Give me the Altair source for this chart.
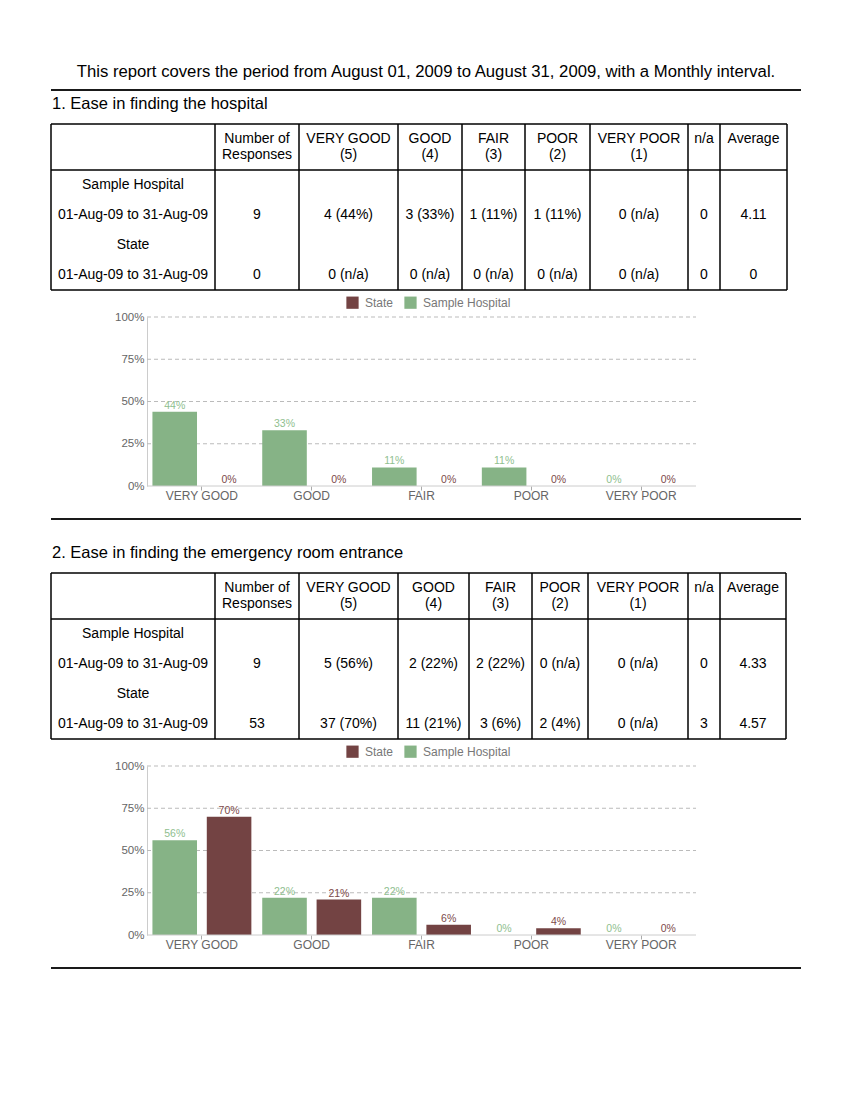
import altair as alt
import pandas as pd

# ---------------- data ----------------
REPORT_TITLE = "This report covers the period from August 01, 2009 to August 31, 2009, with a Monthly interval."
questions = ["1. Ease in finding the hospital", "2. Ease in finding the emergency room entrance"]

header_line1 = ["", "Number of", "VERY GOOD", "GOOD", "FAIR", "POOR", "VERY POOR", "n/a", "Average"]
header_line2 = ["", "Responses", "(5)", "(4)", "(3)", "(2)", "(1)", "", ""]
row_labels = ["Sample Hospital", "01-Aug-09 to 31-Aug-09", "State", "01-Aug-09 to 31-Aug-09"]

q1_hosp = ["9", "4 (44%)", "3 (33%)", "1 (11%)", "1 (11%)", "0 (n/a)", "0", "4.11"]
q1_state = ["0", "0 (n/a)", "0 (n/a)", "0 (n/a)", "0 (n/a)", "0 (n/a)", "0", "0"]
q2_hosp = ["9", "5 (56%)", "2 (22%)", "2 (22%)", "0 (n/a)", "0 (n/a)", "0", "4.33"]
q2_state = ["53", "37 (70%)", "11 (21%)", "3 (6%)", "2 (4%)", "0 (n/a)", "3", "4.57"]

categories = ["VERY GOOD", "GOOD", "FAIR", "POOR", "VERY POOR"]
series_order = ["Sample Hospital", "State"]
legend_order = ["State", "Sample Hospital"]
q1_hosp_pct = [44, 33, 11, 11, 0]
q1_state_pct = [0, 0, 0, 0, 0]
q2_hosp_pct = [56, 22, 22, 0, 0]
q2_state_pct = [70, 21, 6, 4, 0]
y_ticks = [0, 25, 50, 75, 100]
grid_values = [25, 50, 75, 100]

# ---------------- layout / style ----------------
FONT = "Liberation Sans"
PAGE_W = 750
col_edges_q1 = [0, 164, 248, 347, 411, 474, 539, 637, 669, 736]
col_edges_q2 = [0, 164, 248, 347, 418, 481, 537, 637, 669, 735]
HEADER_H = 46
ROW_H = 30
TABLE_H = HEADER_H + ROW_H * len(row_labels)
BAR_LEFT = 96
BAR_RIGHT = 645
BAR_H = 169
GREEN = "#86b386"
BROWN = "#734343"
GREEN_L = "#8fc08f"
BROWN_L = "#7d4a4a"
SEP_COLOR = "#1a1a1a"
AXIS_GRAY = "#cccccc"


def blank(h, w=PAGE_W):
    return alt.Chart(pd.DataFrame({"t": [" "]})).mark_text(fontSize=1).encode(
        text="t:N", x=alt.value(w / 2), y=alt.value(h / 2)
    ).properties(width=w, height=h)


def title_panel():
    txt = alt.Chart(pd.DataFrame({"t": [REPORT_TITLE]})).mark_text(
        fontSize=16.7, align="center", baseline="middle", font=FONT, color="#000"
    ).encode(text="t:N", x=alt.value(PAGE_W / 2), y=alt.value(16))
    rule = alt.Chart(pd.DataFrame({"v": [0]})).mark_rule(
        strokeWidth=2, color=SEP_COLOR
    ).encode(x=alt.value(0), x2=alt.value(PAGE_W), y=alt.value(34))
    return (txt + rule).properties(width=PAGE_W, height=34)


def heading_panel(text, h, ty):
    return alt.Chart(pd.DataFrame({"t": [text]})).mark_text(
        fontSize=16.5, align="left", baseline="middle", font=FONT, color="#000"
    ).encode(text="t:N", x=alt.value(1), y=alt.value(ty)).properties(width=PAGE_W, height=h)


def sep_panel(h):
    return alt.Chart(pd.DataFrame({"v": [0]})).mark_rule(
        strokeWidth=2, color=SEP_COLOR
    ).encode(x=alt.value(0), x2=alt.value(PAGE_W), y=alt.value(h)).properties(width=PAGE_W, height=h)


def table_panel(edges, hosp, state):
    n = len(edges) - 1
    centers = [(edges[i] + edges[i + 1]) / 2 for i in range(n)]
    recs = []
    for i in range(n):
        recs.append({"x": centers[i], "y": 15, "t": header_line1[i]})
        recs.append({"x": centers[i], "y": 31, "t": header_line2[i]})
    for r, lab in enumerate(row_labels):
        recs.append({"x": centers[0], "y": HEADER_H + ROW_H * (r + 0.5), "t": lab})
    for r, vals in ((1, hosp), (3, state)):
        for j, v in enumerate(vals):
            recs.append({"x": centers[j + 1], "y": HEADER_H + ROW_H * (r + 0.5), "t": v})
    tdf = pd.DataFrame(recs)
    xs = alt.Scale(domain=[0, PAGE_W], nice=False, zero=False)
    ys = alt.Scale(domain=[0, TABLE_H], nice=False, zero=False, reverse=True)
    text = alt.Chart(tdf).mark_text(fontSize=14, font=FONT, color="#000", baseline="middle", align="center").encode(
        x=alt.X("x:Q", scale=xs, axis=None), y=alt.Y("y:Q", scale=ys, axis=None), text="t:N"
    )
    vdf = pd.DataFrame({"x": edges, "y": [0] * len(edges), "y2": [TABLE_H] * len(edges)})
    vr = alt.Chart(vdf).mark_rule(strokeWidth=1.5, color="#000").encode(
        x=alt.X("x:Q", scale=xs, axis=None), y=alt.Y("y:Q", scale=ys, axis=None), y2="y2:Q"
    )
    hdf = pd.DataFrame({"y": [0, HEADER_H, TABLE_H], "x": [0] * 3, "x2": [edges[-1]] * 3})
    hr = alt.Chart(hdf).mark_rule(strokeWidth=1.5, color="#000").encode(
        x=alt.X("x:Q", scale=xs, axis=None), x2="x2:Q", y=alt.Y("y:Q", scale=ys, axis=None)
    )
    return (vr + hr + text).properties(width=PAGE_W, height=TABLE_H)


def bar_panel(h_pct, s_pct):
    df = pd.DataFrame({
        "cat": categories * 2,
        "series": ["Sample Hospital"] * len(categories) + ["State"] * len(categories),
        "pct": h_pct + s_pct,
    })
    df["label"] = df["pct"].astype(str) + "%"
    yscale = alt.Scale(domain=[0, 100], nice=False)
    base = alt.Chart(df).encode(
        x=alt.X("cat:N", sort=categories,
                scale=alt.Scale(paddingInner=0, paddingOuter=0, range=[BAR_LEFT, BAR_RIGHT]),
                axis=alt.Axis(title=None, labelAngle=0, labelFontSize=12, labelColor="#666",
                              labelFont=FONT, domain=False, tickColor="#aaa", tickSize=4,
                              labelPadding=0, grid=False)),
        xOffset=alt.XOffset("series:N", sort=series_order,
                            scale=alt.Scale(paddingInner=0.18, paddingOuter=0.1)),
        y=alt.Y("pct:Q", scale=yscale,
                axis=alt.Axis(title=None, values=y_ticks, labelExpr="datum.value + '%'",
                              labelFontSize=11.5, labelColor="#666", labelFont=FONT, ticks=False,
                              labelPadding=3, domainColor=AXIS_GRAY, grid=False,
                              offset=-BAR_LEFT)),
    )
    grid = alt.Chart(pd.DataFrame({"g": grid_values})).mark_rule(
        color="#bbbbbb", strokeDash=[4, 3], strokeWidth=1
    ).encode(y=alt.Y("g:Q", scale=yscale), x=alt.value(BAR_LEFT), x2=alt.value(BAR_RIGHT))
    baseline = alt.Chart(pd.DataFrame({"g": [0]})).mark_rule(
        color=AXIS_GRAY, strokeWidth=1
    ).encode(y=alt.Y("g:Q", scale=yscale), x=alt.value(BAR_LEFT), x2=alt.value(BAR_RIGHT))
    bars = base.mark_bar().encode(
        color=alt.Color("series:N", scale=alt.Scale(domain=legend_order, range=[BROWN, GREEN]),
                        legend=alt.Legend(title=None, orient="none", legendX=295, legendY=-21,
                                          direction="horizontal", symbolType="square", symbolSize=150,
                                          symbolStrokeWidth=0, labelFontSize=12, labelColor="#777",
                                          labelFont=FONT, columnPadding=10, labelOffset=6,
                                          padding=0))
    )
    labels = base.mark_text(baseline="bottom", dy=-1, fontSize=10.5, font=FONT).encode(
        text="label:N",
        color=alt.condition(alt.datum.series == "State", alt.value(BROWN_L), alt.value(GREEN_L)),
    )
    return (grid + bars + baseline + labels).properties(width=PAGE_W, height=BAR_H)


panels = [
    title_panel(),
    heading_panel(questions[0], 34, 14),
    table_panel(col_edges_q1, q1_hosp, q1_state),
    blank(27),
    bar_panel(q1_hosp_pct, q1_state_pct),
    sep_panel(33),
    heading_panel(questions[1], 54, 34),
    table_panel(col_edges_q2, q2_hosp, q2_state),
    blank(27),
    bar_panel(q2_hosp_pct, q2_state_pct),
    sep_panel(33),
]

chart = alt.vconcat(*panels, spacing=0, bounds="flush").resolve_scale(
    color="independent"
).resolve_legend(color="independent").properties(
    padding={"left": 42, "top": 48, "right": 10, "bottom": 20}
).configure(font=FONT, background="white").configure_view(strokeWidth=0)

chart.save("out.html", embed_options={"renderer": "svg", "actions": False})
